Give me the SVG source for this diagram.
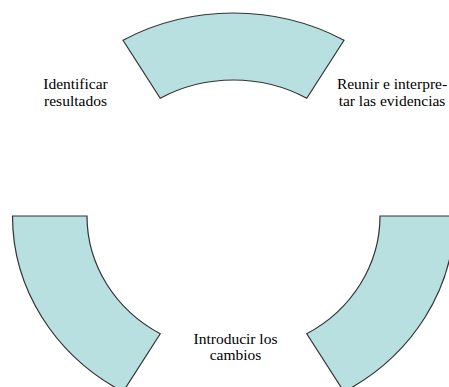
<svg xmlns="http://www.w3.org/2000/svg" width="449" height="387" viewBox="0 0 449 387">
<style>
.seg{fill:#b9e0e1;stroke:#333;stroke-width:1.2;stroke-linejoin:miter}
.lbl{font-family:"Liberation Serif","Times New Roman",serif;font-size:15.5px;fill:#000;text-anchor:middle}
</style>
<rect width="449" height="387" fill="#fff"/>
<g id="seg-top"><path class="seg" d="M123,40.2 A221,203 0 0 1 344,40.2 L306.75,98.2 A146.5,136 0 0 0 160.25,98.2 Z"/></g>
<g id="seg-left"><path class="seg" d="M12.5,216 L87,216 A146.5,136 0 0 0 160.25,333.8 L123,391.8 A221,203 0 0 1 12.5,216 Z"/></g>
<g id="seg-right"><path class="seg" d="M380,216 L454.5,216 A221,203 0 0 1 344,391.8 L306.75,333.8 A146.5,136 0 0 0 380,216 Z"/></g>
<g id="connectors"></g>
<g id="label-identificar"><text class="lbl" x="75.5" y="89">Identificar</text><text class="lbl" x="75.5" y="106">resultados</text></g>
<g id="label-reunir"><text class="lbl" x="392" y="89">Reunir e interpre-</text><text class="lbl" x="392" y="106">tar las evidencias</text></g>
<g id="label-introducir"><text class="lbl" x="235.5" y="344">Introducir los</text><text class="lbl" x="235.5" y="360">cambios</text></g>
</svg>
